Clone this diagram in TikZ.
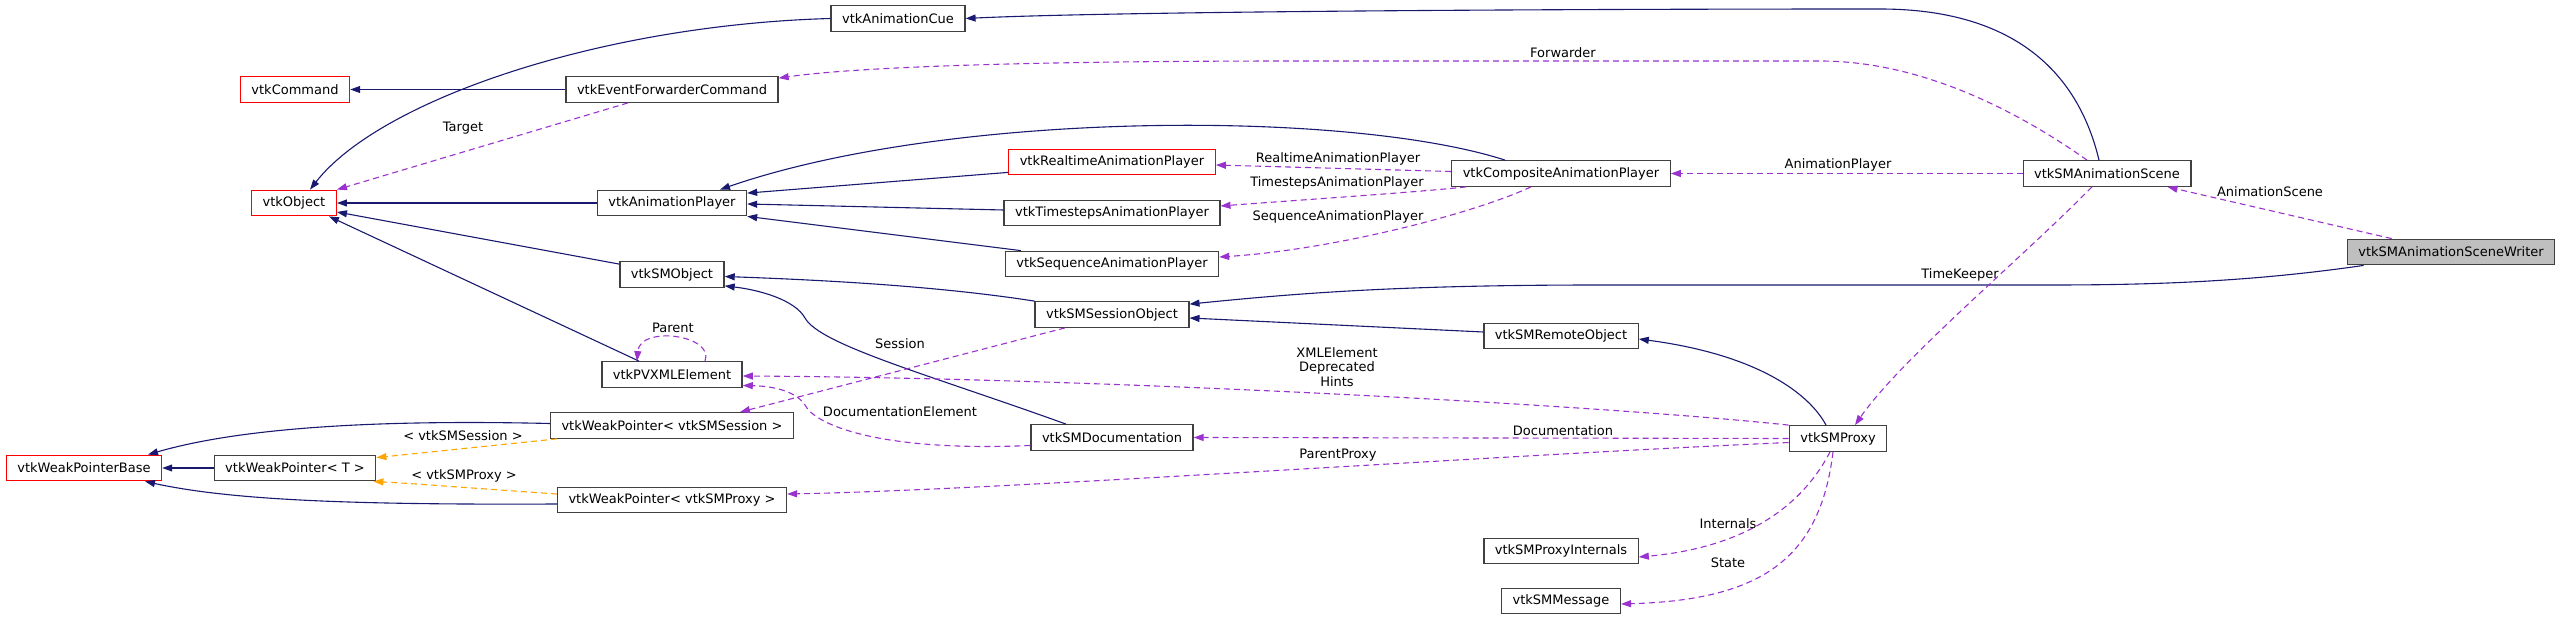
\documentclass[tikz,border=0pt]{standalone}
\usepackage{fontspec}
\setmainfont{DejaVu Sans}
\usepackage{xcolor}
\usetikzlibrary{arrows.meta, positioning, calc}

\definecolor{inhblue}{HTML}{191970}
\definecolor{usepurple}{HTML}{9A32CD}
\definecolor{tplorange}{HTML}{FFA500}
\definecolor{boxgray}{HTML}{404040}
\definecolor{hilite}{HTML}{BFBFBF}

\begin{document}
\begin{tikzpicture}[x=1pt, y=-1pt, font=\fontsize{13}{14.5}\selectfont]
\tikzstyle{cls} = [rectangle, draw=boxgray, fill=white, line width=1.3pt, minimum height=25.5pt, inner xsep=11pt, inner ysep=0pt]
\tikzstyle{ext} = [cls, draw=red]
\tikzstyle{inh} = [draw=inhblue, line width=1.1pt, -{Triangle[length=10pt,width=7pt]}]
\tikzstyle{uses} = [draw=usepurple, line width=1.1pt, dash pattern=on 6pt off 4pt, -{Triangle[length=10pt,width=7pt]}]
\tikzstyle{tpl} = [uses, draw=tplorange]
\tikzstyle{lbl} = [inner sep=0pt, align=center]

\useasboundingbox (0,0) rectangle (2568,620);

% classes
\node (cue) [cls] at (898,18.5) {vtkAnimationCue};
\node (command) [ext] at (295,89.5) {vtkCommand};
\node (efc) [cls] at (672,89.5) {vtkEventForwarderCommand};
\node (object) [ext] at (294,203) {vtkObject};
\node (animplayer) [cls] at (672,203) {vtkAnimationPlayer};
\node (smobject) [cls] at (672,274.5) {vtkSMObject};
\node (pvxml) [cls] at (672,374.5) {vtkPVXMLElement};
\node (wpsession) [cls] at (672,425.5) {vtkWeakPointer< vtkSMSession >};
\node (wpbase) [ext] at (84,468) {vtkWeakPointerBase};
\node (wpt) [cls] at (295,468) {vtkWeakPointer< T >};
\node (wpproxy) [cls] at (672,500) {vtkWeakPointer< vtkSMProxy >};
\node (realtime) [ext] at (1112,162) {vtkRealtimeAnimationPlayer};
\node (timesteps) [cls] at (1112,213) {vtkTimestepsAnimationPlayer};
\node (sequence) [cls] at (1112,264) {vtkSequenceAnimationPlayer};
\node (sessionobj) [cls] at (1112,314.5) {vtkSMSessionObject};
\node (documentation) [cls] at (1112,437.5) {vtkSMDocumentation};
\node (composite) [cls] at (1561,173.5) {vtkCompositeAnimationPlayer};
\node (remote) [cls] at (1561,336) {vtkSMRemoteObject};
\node (internals) [cls] at (1561,551) {vtkSMProxyInternals};
\node (message) [cls] at (1561,601) {vtkSMMessage};
\node (scene) [cls] at (2107,173.5) {vtkSMAnimationScene};
\node (proxy) [cls] at (1838,438.5) {vtkSMProxy};
\node (writer) [cls, fill=hilite] at (2451,252) {vtkSMAnimationSceneWriter};

% inheritance
\draw [inh] (efc.west) -- (command.east);
\draw [inh] (animplayer.west) -- (object.east);
\draw [inh] (cue.west) .. controls (600,25) and (380,100) .. ([xshift=16pt]object.north);
\draw [inh] ([yshift=-3pt]smobject.north west) -- ([yshift=-9pt]object.east);
\draw [inh] ([xshift=-33pt]pvxml.north) -- ([xshift=35pt]object.south);
\draw [inh] ([xshift=-56pt]composite.north) .. controls (1350,110) and (950,110) .. ([xshift=48pt]animplayer.north);
\draw [inh] ([yshift=3pt]realtime.south west) -- ([yshift=-3.5pt]animplayer.north east);
\draw [inh] ([yshift=3pt]timesteps.west) -- ([yshift=-1pt]animplayer.east);
\draw [inh] ([xshift=16pt]sequence.north west) -- (animplayer.south east);
\draw [inh] (sessionobj.north west) .. controls (950,288) and (850,281) .. ([yshift=-2pt]smobject.east);
\draw [inh] ([xshift=-46pt]documentation.north) .. controls (930,375) and (820,345) .. (805,318) .. controls (795,300) and (760,290) .. ([yshift=2pt]smobject.south east);
\draw [inh] ([yshift=4pt]remote.west) -- ([yshift=-3.5pt]sessionobj.east);
\draw [inh] ([xshift=-12pt]proxy.north) .. controls (1810,395) and (1760,355) .. ([yshift=-3pt]remote.east);
\draw [inh] ([xshift=-8pt]scene.north) .. controls (2075,60) and (2000,9) .. (1880,9) .. controls (1500,9) and (1100,12) .. (cue.east);
\draw [inh] ([xshift=17pt]writer.south west) .. controls (2250,282) and (2150,285) .. (2050,285) -- (1600,285) .. controls (1400,285) and (1300,293) .. ([yshift=-3pt]sessionobj.north east);
\draw [inh] ([yshift=2pt]wpsession.west) .. controls (400,420) and (250,425) .. ([xshift=64pt]wpbase.north);
\draw [inh] (wpt.west) -- (wpbase.east);
\draw [inh] ([yshift=-4pt]wpproxy.west) .. controls (350,505) and (230,500) .. ([xshift=61pt]wpbase.south);

% usage
\draw [uses] ([xshift=-20pt]scene.north) .. controls (2030,120) and (1930,61) .. (1820,61) -- (1300,61) .. controls (1000,61) and (850,68) .. ([yshift=-2pt]efc.north east);
\draw [uses] ([xshift=-44pt]efc.south) -- (object.north east);
\draw [uses] ([yshift=2pt]composite.west) -- ([yshift=-3pt]realtime.east);
\draw [uses] ([xshift=15pt]composite.south west) .. controls (1420,192) and (1300,200) .. ([yshift=7pt]timesteps.east);
\draw [uses] ([xshift=-30pt]composite.south) .. controls (1470,215) and (1330,250) .. ([yshift=7pt]sequence.east);
\draw [uses] (scene.west) -- (composite.east);
\draw [uses] ([xshift=45pt]writer.north west) -- ([xshift=-24pt]scene.south east);
\draw [uses] ([xshift=-15pt]scene.south) .. controls (2020,260) and (1900,360) .. ([xshift=17pt]proxy.north);
\draw [uses] ([xshift=33pt]pvxml.north) .. controls (715,335) and (640,325) .. ([xshift=-35pt]pvxml.north);
\draw [uses] (proxy.north west) .. controls (1600,405) and (1100,378) .. ([yshift=-1.5pt]pvxml.east);
\draw [uses] ([yshift=-8pt]documentation.west) .. controls (880,452) and (815,425) .. (805,405) .. controls (795,390) and (770,386) .. ([yshift=-11pt]pvxml.east);
\draw [uses] ([xshift=-47pt]sessionobj.south) -- ([xshift=68pt]wpsession.north);
\draw [uses] (proxy.west) -- (documentation.east);
\draw [uses] ([yshift=-4pt]proxy.west) .. controls (1500,455) and (1000,490) .. ([yshift=6pt]wpproxy.east);
\draw [uses] ([xshift=-8pt]proxy.south) .. controls (1800,510) and (1740,548) .. ([yshift=-6pt]internals.east);
\draw [uses] ([xshift=-5pt]proxy.south) .. controls (1820,560) and (1760,600) .. ([yshift=-3pt]message.east);

% template instances
\draw [tpl] ([xshift=7pt]wpsession.south west) -- ([yshift=-3pt]wpt.north east);
\draw [tpl] ([yshift=6pt]wpproxy.west) .. controls (470,488) and (420,484) .. ([xshift=-3pt]wpt.south east);

% edge labels
\node (l_forwarder) [lbl] at (1563,53) {Forwarder};
\node (l_target) [lbl] at (463,128) {Target};
\node (l_realtime) [lbl] at (1338,159) {RealtimeAnimationPlayer};
\node (l_timesteps) [lbl] at (1337,183) {TimestepsAnimationPlayer};
\node (l_sequence) [lbl] at (1338,217) {SequenceAnimationPlayer};
\node (l_animplayer) [lbl] at (1838,165) {AnimationPlayer};
\node (l_animscene) [lbl] at (2270,192) {AnimationScene};
\node (l_timekeeper) [lbl] at (1960,275) {TimeKeeper};
\node (l_parent) [lbl] at (673,328) {Parent};
\node (l_session) [lbl] at (900,344) {Session};
\node (l_xml) [lbl] at (1337,367) {XMLElement\\Deprecated\\Hints};
\node (l_docelem) [lbl] at (900,412) {DocumentationElement};
\node (l_doc) [lbl] at (1563,431) {Documentation};
\node (l_parentproxy) [lbl] at (1338,455) {ParentProxy};
\node (l_tsession) [lbl] at (463,436) {< vtkSMSession >};
\node (l_tproxy) [lbl] at (464,476) {< vtkSMProxy >};
\node (l_internals) [lbl] at (1728,524) {Internals};
\node (l_state) [lbl] at (1728,563) {State};
\end{tikzpicture}
\end{document}
